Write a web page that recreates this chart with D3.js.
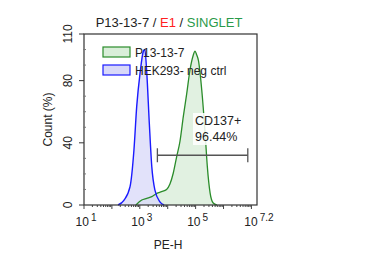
<!DOCTYPE html>
<html>
<head>
<meta charset="utf-8">
<script src="https://cdn.jsdelivr.net/npm/d3@7"></script>
<style>
  body { margin: 0; background: #fff; }
  svg { font-family: "Liberation Sans", Arial, sans-serif; }
</style>
</head>
<body>
<div id="chart"></div>
<script>
// histogram of the sample (log10 PE-H, count %)
const sampleLog = [2.86, 3.07, 3.25, 3.43, 3.61, 3.78, 3.96, 4.08, 4.2, 4.32, 4.44, 4.56, 4.68, 4.8, 4.91, 4.98, 5.03, 5.1, 5.22, 5.34, 5.42, 5.52, 5.63, 5.76];
const sampleCount = [0, 3.2, 4.3, 5.4, 7.5, 8.6, 10, 13.5, 20.6, 31, 41, 57, 71.5, 87, 96, 99, 97, 93, 74, 46.4, 24.7, 7.7, 1.3, 0];

// negative control
const ctrlLog = [2.22, 2.43, 2.65, 2.79, 2.89, 3.01, 3.13, 3.18, 3.25, 3.34, 3.43, 3.54, 3.72, 3.87];
const ctrlCount = [0, 3, 11.8, 35.4, 63.6, 85, 99, 100, 85, 52.8, 24.5, 9.7, 2, 0];

const seriesNames = ['P13-13-7', 'HEK293- neg ctrl'];
const gateRange = [3.63, 6.87];
const gateLevel = 32;
const gateLabel = ['CD137+', '96.44%'];

const yTicks = [0, 40, 80, 110];
const xLabelExps = [1, 3, 5, 7.2];

const W = 371, H = 263;
const m = {left: 84, top: 34, right: 257, bottom: 205};

const svg = d3.select('#chart').append('svg')
  .attr('width', W)
  .attr('height', H);

const x = d3.scaleLog().domain([10, Math.pow(10, 7.2)]).range([m.left, m.right]);
const y = d3.scaleLinear().domain([0, 110]).range([m.bottom, m.top]);

const area = d3.area()
  .x(d => x(Math.pow(10, d[0])))
  .y0(y(0))
  .y1(d => y(d[1]))
  .curve(d3.curveMonotoneX);
const line = d3.line()
  .x(d => x(Math.pow(10, d[0])))
  .y(d => y(d[1]))
  .curve(d3.curveMonotoneX);

const sample = sampleLog.map((v, i) => [v, sampleCount[i]]);
const ctrl = ctrlLog.map((v, i) => [v, ctrlCount[i]]);

const green = '#2a8c2a', greenFill = '#d9eed9';
const blue = '#1a1aff', blueFill = '#d8d8f8';

// filled histograms
svg.append('path').attr('d', area(sample)).attr('fill', greenFill).attr('fill-opacity', 0.8);
svg.append('path').attr('d', area(ctrl)).attr('fill', blueFill).attr('fill-opacity', 0.75);
svg.append('path').attr('d', line(sample)).attr('fill', 'none').attr('stroke', green).attr('stroke-width', 1.3);
svg.append('path').attr('d', line(ctrl)).attr('fill', 'none').attr('stroke', blue).attr('stroke-width', 1.4);

// frame
svg.append('rect')
  .attr('x', m.left).attr('y', m.top)
  .attr('width', m.right - m.left).attr('height', m.bottom - m.top)
  .attr('fill', 'none').attr('stroke', '#333').attr('stroke-width', 1.2);

// y ticks
const yg = svg.append('g');
d3.range(0, 111, 10).forEach(v => {
  const major = yTicks.indexOf(v) >= 0;
  yg.append('line')
    .attr('x1', major ? m.left - 5 : m.left - 1).attr('x2', m.left + (major ? 0 : 2))
    .attr('y1', y(v)).attr('y2', y(v))
    .attr('stroke', major ? '#333' : '#777').attr('stroke-width', 1);
});
yTicks.forEach(v => {
  yg.append('text')
    .attr('transform', 'translate(' + 72 + ',' + y(v) + ') rotate(-90)')
    .attr('text-anchor', 'middle')
    .attr('font-size', 12)
    .attr('fill', '#222')
    .text(v);
});
svg.append('text')
  .attr('transform', 'translate(52,' + ((m.top + m.bottom) / 2) + ') rotate(-90)')
  .attr('text-anchor', 'middle')
  .attr('font-size', 12)
  .attr('fill', '#222')
  .text('Count  (%)');

// x ticks
const xg = svg.append('g');
for (let e = 1; e <= 7; e++) {
  for (let k = 1; k <= 9; k++) {
    const v = k * Math.pow(10, e);
    if (v > x.domain()[1]) break;
    xg.append('line')
      .attr('x1', x(v)).attr('x2', x(v))
      .attr('y1', m.bottom).attr('y2', m.bottom + (k === 1 ? 4 : 2))
      .attr('stroke', '#444').attr('stroke-width', 1);
  }
}
xLabelExps.forEach(e => {
  const t = xg.append('text')
    .attr('x', x(Math.pow(10, e)) + 2)
    .attr('y', 226)
    .attr('text-anchor', 'middle')
    .attr('font-size', 12)
    .attr('fill', '#222');
  t.append('tspan').text('10');
  t.append('tspan').attr('dy', -5).attr('dx', 2).attr('font-size', 10).text(e);
});
svg.append('text')
  .attr('x', 168).attr('y', 249)
  .attr('text-anchor', 'middle')
  .attr('font-size', 12)
  .attr('fill', '#222')
  .text('PE-H');

// title
const title = svg.append('text')
  .attr('x', 169).attr('y', 27)
  .attr('text-anchor', 'middle')
  .attr('font-size', 13);
title.append('tspan').attr('fill', '#222').text('P13-13-7 / ');
title.append('tspan').attr('fill', '#ff2020').text('E1');
title.append('tspan').attr('fill', '#222').text(' / ');
title.append('tspan').attr('fill', '#2a9a4a').text('SINGLET');

// legend
const legend = svg.append('g');
[[green, greenFill], [blue, blueFill]].forEach((c, i) => {
  legend.append('rect')
    .attr('x', 103).attr('y', 47 + i * 18)
    .attr('width', 27).attr('height', 10)
    .attr('fill', c[1]).attr('stroke', c[0]).attr('stroke-width', 1.2);
  legend.append('text')
    .attr('x', 135).attr('y', 57 + i * 18)
    .attr('font-size', 12)
    .attr('fill', '#222')
    .text(seriesNames[i]);
});

// gate
const gx0 = x(Math.pow(10, gateRange[0])), gx1 = x(Math.pow(10, gateRange[1])), gy = y(gateLevel);
const gate = svg.append('g').attr('stroke', '#555').attr('stroke-width', 1.3);
gate.append('line').attr('x1', gx0).attr('x2', gx1).attr('y1', gy).attr('y2', gy);
gate.append('line').attr('x1', gx0).attr('x2', gx0).attr('y1', gy - 7).attr('y2', gy + 7);
gate.append('line').attr('x1', gx1).attr('x2', gx1).attr('y1', gy - 7).attr('y2', gy + 7);

svg.append('rect')
  .attr('x', 193).attr('y', 113)
  .attr('width', 52).attr('height', 32)
  .attr('fill', '#fff').attr('fill-opacity', 0.85);
gateLabel.forEach((s, i) => {
  svg.append('text')
    .attr('x', 195).attr('y', 125 + i * 16)
    .attr('font-size', 12.5)
    .attr('fill', '#222')
    .text(s);
});
</script>
</body>
</html>
